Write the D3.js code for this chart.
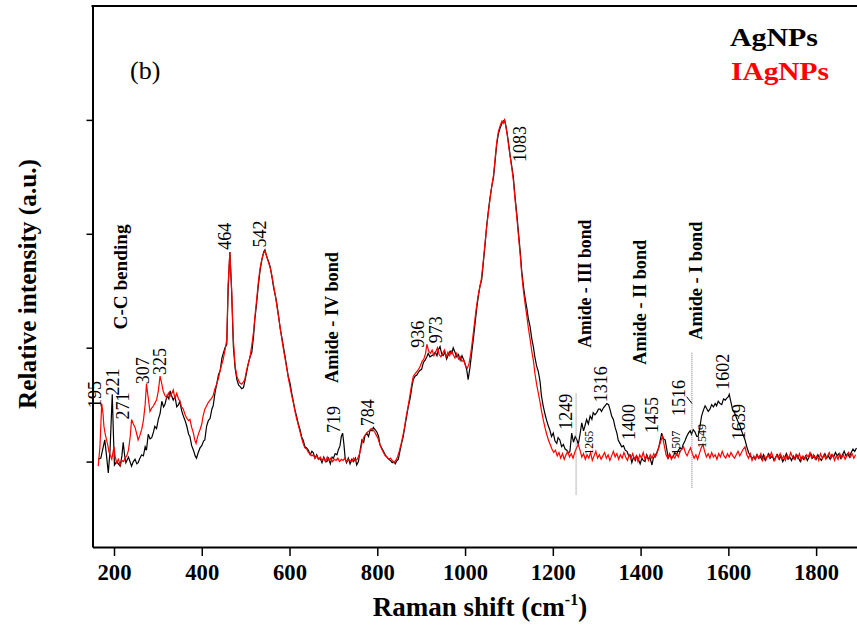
<!DOCTYPE html>
<html>
<head>
<meta charset="utf-8">
<script src="https://cdn.jsdelivr.net/npm/d3@7"></script>
<style>
  body { margin: 0; background: #fff; }
  text { font-family: "Liberation Serif", "Times New Roman", serif; }
</style>
</head>
<body>
<div id="chart_div"></div>
<script>
// AgNPs spectrum, [Raman shift, relative intensity]
const agnps = [
  [164,0.02],[170,0.03],[175,0.12],[179,0.19],[183,0.05],[187,-0.10],[191,0.10],[196,0.59],[199,0.2],[201,-0.03],
  [206,0.00],[210,-0.02],[214,-0.04],[218,0.05],[221,0.17],[224,0.06],[227,-0.01],[233,0.04],[240,-0.04],[244,0.00],
  [248,0.02],[252,-0.02],[255,-0.01],[259,0.03],[263,0.06],[267,0.05],[271,0.13],[274,0.10],[278,0.24],[282,0.20],
  [286,0.21],[290,0.26],[293,0.31],[297,0.29],[301,0.37],[305,0.42],[309,0.53],[313,0.48],[316,0.50],[321,0.58],
  [325,0.55],[328,0.62],[331,0.58],[335,0.54],[339,0.57],[343,0.48],[347,0.50],[350,0.53],[354,0.45],[358,0.40],
  [362,0.36],[366,0.31],[370,0.24],[373,0.22],[377,0.14],[381,0.10],[385,0.05],[388,0.03],[392,0.08],[396,0.12],
  [400,0.14],[404,0.18],[407,0.19],[411,0.31],[415,0.36],[419,0.38],[423,0.46],[426,0.49],[430,0.60],[434,0.68],
  [438,0.76],[442,0.80],[446,0.91],[449,0.95],[453,1.00],[457,1.03],[460,1.50],[464,1.84],[468,1.50],[472,1.01],
  [476,0.82],[480,0.72],[484,0.67],[487,0.66],[491,0.64],[495,0.65],[499,0.72],[502,0.78],[506,0.86],[510,0.92],
  [514,0.96],[518,1.10],[521,1.25],[525,1.39],[529,1.55],[533,1.68],[537,1.77],[541,1.84],[544,1.86],[548,1.80],
  [552,1.76],[556,1.71],[560,1.62],[564,1.52],[568,1.45],[571,1.39],[575,1.28],[579,1.16],[583,1.08],[586,1.01],
  [590,0.92],[594,0.82],[597,0.75],[601,0.69],[605,0.60],[609,0.52],[612,0.46],[616,0.40],[620,0.33],[624,0.28],
  [628,0.21],[631,0.19],[635,0.13],[639,0.12],[643,0.10],[647,0.06],[651,0.09],[654,0.08],[658,0.03],[662,0.06],
  [666,0.02],[670,0.03],[674,-0.01],[678,0.04],[682,0.00],[685,0.00],[689,0.03],[693,-0.02],[697,0.04],[700,0.03],
  [704,0.07],[708,0.06],[711,0.10],[715,0.14],[718,0.22],[721,0.25],[724,0.15],[727,0.02],[730,-0.01],[734,0.03],
  [738,-0.02],[742,0.02],[746,0.00],[750,0.03],[753,-0.03],[757,0.00],[761,0.10],[765,0.19],[769,0.17],[772,0.23],
  [776,0.25],[780,0.22],[784,0.28],[788,0.27],[791,0.30],[795,0.28],[799,0.26],[803,0.22],[806,0.15],[810,0.12],
  [814,0.09],[818,0.06],[822,0.04],[826,0.02],[830,0.01],[834,-0.01],[838,0.00],[841,-0.02],[845,0.01],[848,0.02],
  [852,0.10],[856,0.17],[859,0.22],[863,0.31],[867,0.40],[871,0.49],[875,0.56],[879,0.66],[882,0.72],[886,0.75],
  [890,0.76],[893,0.78],[897,0.80],[901,0.81],[905,0.87],[909,0.89],[913,0.92],[916,0.95],[920,0.92],[924,0.93],
  [928,0.94],[932,0.96],[936,0.93],[939,0.98],[943,1.01],[947,0.94],[950,0.93],[954,0.96],[958,0.90],[962,0.94],
  [966,0.97],[970,0.95],[973,1.00],[977,0.96],[981,0.92],[985,0.94],[989,0.89],[993,0.93],[996,0.90],[1000,0.86],
  [1004,0.80],[1007,0.72],[1011,0.82],[1015,0.95],[1019,1.08],[1023,1.22],[1027,1.36],[1031,1.47],[1034,1.54],[1038,1.60],
  [1042,1.76],[1046,1.92],[1049,2.06],[1053,2.20],[1057,2.32],[1061,2.42],[1065,2.50],[1069,2.66],[1072,2.78],[1076,2.88],
  [1080,2.93],[1084,2.97],[1087,2.99],[1090,3.00],[1093,2.95],[1096,2.88],[1099,2.80],[1103,2.68],[1107,2.58],[1110,2.50],
  [1114,2.32],[1118,2.17],[1122,2.00],[1126,1.83],[1129,1.68],[1133,1.54],[1137,1.43],[1141,1.34],[1144,1.26],[1148,1.19],
  [1152,1.08],[1156,1.00],[1159,0.92],[1163,0.84],[1167,0.79],[1171,0.70],[1174,0.58],[1178,0.49],[1182,0.42],[1186,0.36],
  [1190,0.31],[1193,0.28],[1197,0.22],[1201,0.25],[1205,0.18],[1209,0.16],[1212,0.21],[1216,0.19],[1220,0.13],[1224,0.15],
  [1228,0.11],[1232,0.10],[1235,0.07],[1239,0.09],[1243,0.25],[1247,0.17],[1251,0.22],[1255,0.19],[1258,0.15],[1262,0.24],
  [1266,0.34],[1270,0.27],[1273,0.31],[1277,0.37],[1281,0.33],[1285,0.40],[1289,0.37],[1292,0.43],[1296,0.41],[1300,0.43],
  [1304,0.46],[1308,0.46],[1311,0.44],[1315,0.47],[1319,0.49],[1323,0.51],[1327,0.50],[1331,0.45],[1334,0.40],[1338,0.37],
  [1342,0.30],[1346,0.25],[1349,0.19],[1353,0.16],[1357,0.13],[1361,0.14],[1365,0.10],[1369,0.09],[1373,0.05],[1376,0.06],
  [1380,-0.01],[1384,0.04],[1388,0.01],[1391,0.05],[1395,0.02],[1399,-0.02],[1403,0.03],[1406,0.01],[1410,0.00],[1414,0.06],
  [1418,0.02],[1421,0.04],[1426,-0.03],[1429,0.03],[1433,0.05],[1437,0.08],[1441,0.12],[1444,0.17],[1448,0.25],[1452,0.20],
  [1456,0.19],[1460,0.10],[1463,0.03],[1467,0.06],[1471,0.03],[1475,0.05],[1478,0.08],[1482,0.06],[1486,0.10],[1490,0.12],
  [1494,0.11],[1497,0.15],[1501,0.18],[1505,0.22],[1509,0.25],[1513,0.27],[1516,0.24],[1520,0.28],[1524,0.26],[1528,0.22],
  [1531,0.22],[1535,0.30],[1539,0.40],[1543,0.45],[1547,0.49],[1550,0.47],[1554,0.44],[1558,0.46],[1562,0.50],[1566,0.48],
  [1570,0.51],[1573,0.49],[1577,0.53],[1581,0.51],[1585,0.50],[1589,0.55],[1593,0.54],[1597,0.56],[1600,0.57],[1602,0.59],
  [1606,0.52],[1610,0.45],[1614,0.43],[1618,0.39],[1622,0.35],[1627,0.31],[1630,0.27],[1634,0.23],[1638,0.19],[1642,0.13],
  [1646,0.08],[1650,0.05],[1654,0.03],[1658,0.04],[1661,0.02],[1665,0.06],[1669,0.03],[1672,0.05],[1676,0.02],[1680,0.06],
  [1684,0.01],[1688,0.04],[1692,0.07],[1696,0.03],[1700,0.05],[1704,0.01],[1708,0.04],[1712,0.06],[1716,0.02],[1720,0.05],
  [1724,0.00],[1728,0.03],[1732,0.07],[1736,0.02],[1740,0.04],[1744,0.01],[1748,0.05],[1752,0.02],[1756,0.06],[1760,0.03],
  [1764,0.00],[1768,0.04],[1772,0.02],[1776,0.05],[1780,0.01],[1784,0.04],[1788,0.07],[1792,0.03],[1796,0.05],[1800,0.02],
  [1804,0.06],[1808,0.03],[1812,0.01],[1816,0.04],[1820,0.07],[1824,0.03],[1828,0.05],[1832,0.02],[1836,0.06],[1840,0.04],
  [1844,0.08],[1848,0.05],[1852,0.07],[1856,0.03],[1860,0.06],[1864,0.09],[1868,0.05],[1872,0.07],[1876,0.04],[1880,0.08],
  [1884,0.11],[1888,0.09],[1892,0.12]
];

// IAgNPs spectrum
const iagnps = [
  [164,-0.04],[168,0.13],[172,0.51],[175,0.42],[177,0.31],[180,0.24],[183,0.19],[186,0.14],[189,0.08],[192,0.05],
  [195,0.02],[198,0.09],[200,0.13],[203,0.04],[206,-0.01],[210,0.02],[214,-0.03],[218,0.01],[222,0.00],[225,0.03],
  [229,0.05],[233,0.10],[237,0.22],[240,0.37],[244,0.33],[248,0.30],[252,0.24],[255,0.19],[259,0.23],[263,0.28],
  [267,0.36],[271,0.50],[274,0.68],[278,0.56],[282,0.44],[286,0.47],[290,0.49],[294,0.52],[297,0.54],[301,0.62],
  [305,0.75],[309,0.68],[312,0.62],[316,0.58],[320,0.56],[324,0.60],[327,0.57],[331,0.59],[335,0.63],[339,0.55],
  [343,0.60],[347,0.55],[350,0.53],[354,0.48],[358,0.46],[362,0.41],[366,0.38],[370,0.36],[373,0.37],[377,0.30],
  [381,0.25],[384,0.19],[387,0.16],[390,0.21],[393,0.25],[396,0.28],[400,0.33],[403,0.40],[407,0.46],[411,0.49],
  [415,0.52],[419,0.54],[423,0.56],[426,0.58],[430,0.64],[434,0.68],[438,0.73],[442,0.80],[446,0.86],[449,0.90],
  [453,0.98],[457,1.07],[460,1.55],[464,1.84],[468,1.52],[472,1.07],[476,0.84],[480,0.75],[484,0.71],[487,0.69],
  [491,0.68],[495,0.70],[498,0.72],[502,0.80],[506,0.86],[510,0.92],[514,1.02],[518,1.14],[521,1.27],[525,1.42],
  [529,1.58],[533,1.70],[537,1.78],[541,1.83],[544,1.85],[548,1.80],[552,1.75],[556,1.70],[560,1.63],[564,1.54],
  [568,1.45],[571,1.37],[575,1.27],[579,1.17],[583,1.06],[586,0.99],[590,0.90],[594,0.81],[597,0.74],[601,0.66],
  [605,0.58],[609,0.51],[612,0.45],[616,0.38],[620,0.32],[624,0.26],[628,0.20],[631,0.16],[635,0.12],[639,0.11],
  [643,0.08],[647,0.07],[651,0.05],[654,0.06],[658,0.03],[662,0.05],[666,0.02],[670,0.04],[674,0.01],[678,0.03],
  [682,0.00],[686,0.04],[690,0.01],[694,0.03],[698,0.00],[702,0.02],[706,0.01],[710,0.03],[714,0.00],[718,0.02],
  [722,0.01],[726,0.03],[730,0.00],[734,0.02],[738,0.01],[742,0.00],[746,0.03],[750,0.01],[754,0.02],[758,0.05],
  [762,0.10],[766,0.18],[770,0.22],[774,0.24],[778,0.26],[782,0.27],[786,0.29],[790,0.28],[794,0.26],[798,0.23],
  [802,0.20],[806,0.15],[810,0.11],[814,0.08],[818,0.05],[822,0.04],[826,0.02],[830,0.03],[834,0.01],[838,-0.01],
  [842,0.01],[846,0.04],[850,0.09],[854,0.15],[858,0.22],[862,0.30],[866,0.40],[870,0.48],[874,0.57],[878,0.67],
  [882,0.75],[886,0.77],[890,0.79],[894,0.81],[898,0.84],[902,0.88],[906,0.90],[910,0.95],[913,1.03],[917,0.97],
  [921,0.95],[925,0.98],[929,0.93],[933,0.96],[937,1.00],[941,0.94],[945,0.92],[949,0.95],[953,0.98],[957,0.92],
  [961,0.96],[965,0.93],[969,0.97],[973,0.94],[977,0.91],[981,0.95],[985,0.90],[989,0.92],[993,0.88],[997,0.89],
  [1001,0.84],[1005,0.82],[1009,0.86],[1013,0.95],[1017,1.07],[1021,1.20],[1025,1.33],[1029,1.44],[1033,1.52],[1037,1.60],
  [1041,1.74],[1045,1.90],[1049,2.05],[1053,2.18],[1057,2.31],[1061,2.42],[1065,2.52],[1069,2.68],[1072,2.80],[1076,2.90],
  [1080,2.95],[1084,2.99],[1087,2.97],[1090,3.00],[1093,2.94],[1096,2.87],[1099,2.78],[1103,2.67],[1107,2.56],[1110,2.47],
  [1114,2.30],[1118,2.14],[1122,1.97],[1126,1.80],[1129,1.65],[1133,1.50],[1137,1.38],[1141,1.27],[1144,1.18],[1148,1.08],
  [1152,0.97],[1156,0.88],[1159,0.78],[1163,0.68],[1167,0.60],[1171,0.52],[1174,0.45],[1178,0.37],[1182,0.30],[1186,0.24],
  [1190,0.19],[1194,0.15],[1198,0.11],[1202,0.08],[1206,0.10],[1210,0.05],[1214,0.08],[1218,0.03],[1222,0.07],[1226,0.02],
  [1230,0.06],[1234,0.09],[1238,0.04],[1242,0.07],[1246,0.03],[1250,0.08],[1254,0.12],[1258,0.15],[1262,0.10],[1266,0.04],
  [1270,0.07],[1274,0.02],[1278,0.06],[1282,0.03],[1286,0.08],[1290,0.01],[1294,0.05],[1298,0.09],[1302,0.03],[1306,0.06],
  [1310,0.02],[1314,0.05],[1318,0.08],[1322,0.03],[1326,0.06],[1330,0.01],[1334,0.05],[1338,0.09],[1342,0.04],[1346,0.07],
  [1350,0.02],[1354,0.06],[1358,0.03],[1362,0.08],[1366,0.04],[1370,0.01],[1374,0.06],[1378,0.03],[1382,0.07],[1386,0.02],
  [1390,0.05],[1394,0.00],[1398,0.06],[1402,0.03],[1406,0.08],[1410,0.02],[1414,0.05],[1418,0.01],[1422,0.06],[1426,0.03],
  [1430,0.07],[1434,0.04],[1438,0.08],[1442,0.13],[1446,0.18],[1450,0.22],[1454,0.14],[1458,0.06],[1462,0.03],[1466,0.07],
  [1470,0.02],[1474,0.05],[1478,0.03],[1482,0.07],[1486,0.04],[1490,0.09],[1494,0.11],[1498,0.13],[1502,0.08],[1506,0.05],
  [1510,0.09],[1514,0.12],[1518,0.07],[1522,0.03],[1526,0.06],[1530,0.02],[1534,0.07],[1538,0.12],[1542,0.15],[1546,0.09],
  [1550,0.04],[1554,0.07],[1558,0.03],[1562,0.08],[1566,0.04],[1570,0.06],[1574,0.02],[1578,0.07],[1582,0.04],[1586,0.09],
  [1590,0.05],[1594,0.03],[1598,0.07],[1602,0.04],[1606,0.08],[1610,0.05],[1614,0.03],[1618,0.06],[1622,0.09],[1626,0.05],
  [1630,0.08],[1634,0.11],[1638,0.13],[1642,0.06],[1646,0.03],[1650,0.07],[1654,0.01],[1658,0.05],[1662,0.02],[1666,0.06],
  [1670,0.03],[1674,0.07],[1678,0.01],[1682,0.05],[1686,0.02],[1690,0.06],[1694,0.03],[1698,0.08],[1702,0.04],[1706,0.01],
  [1710,0.06],[1714,0.03],[1718,0.07],[1722,0.02],[1726,0.05],[1730,0.01],[1734,0.06],[1738,0.03],[1742,0.08],[1746,0.04],
  [1750,0.02],[1754,0.06],[1758,0.03],[1762,0.07],[1766,0.01],[1770,0.05],[1774,0.02],[1778,0.06],[1782,0.04],[1786,0.08],
  [1790,0.03],[1794,0.06],[1798,0.02],[1802,0.05],[1806,0.01],[1810,0.07],[1814,0.03],[1818,0.06],[1822,0.02],[1826,0.05],
  [1830,0.08],[1834,0.03],[1838,0.06],[1842,0.01],[1846,0.05],[1850,0.02],[1854,0.07],[1858,0.03],[1862,0.06],[1866,0.02],
  [1870,0.05],[1874,0.08],[1878,0.04],[1882,0.07],[1886,0.03],[1890,0.06]
];

const xTicks = [200, 400, 600, 800, 1000, 1200, 1400, 1600, 1800];
const yTicks = [0, 1, 2, 3];

// peak labels: text, anchor shift, anchor intensity, small?
const peakLabels = [
  ["195", 157, 0.47, false], ["221", 198, 0.58, false], ["271", 220, 0.37, false],
  ["307", 266, 0.68, false], ["325", 305, 0.76, false], ["464", 453, 1.86, false],
  ["542", 531, 1.88, false], ["719", 701, 0.25, false], ["784", 779, 0.31, false],
  ["936", 891, 1.00, false], ["973", 934, 1.04, false], ["1083", 1124, 2.63, false],
  ["1249", 1229, 0.28, false], ["1265", 1283, 0.06, true], ["1316", 1309, 0.52, false],
  ["1400", 1374, 0.19, false], ["1455", 1426, 0.25, false], ["1507", 1481, 0.06, true],
  ["1516", 1486, 0.40, false], ["1549", 1539, 0.12, true], ["1602", 1587, 0.63, false],
  ["1639", 1623, 0.19, false]
];

// band labels: text, shift, intensity at text start, length
const bandLabels = [
  ["C-C bending", 216, 1.16, 105],
  ["Amide - IV bond", 697, 0.69, 131],
  ["Amide - III bond", 1273, 1.00, 128],
  ["Amide - II bond", 1399, 0.85, 125],
  ["Amide - I bond", 1526, 1.07, 118]
];

// dotted markers: shift, from, to
const markers = [[1253, -0.29, 0.60], [1517, -0.23, 0.96]];

const width = 857;
const height = 637;
const plotLeft = 92.5, plotTop = 6, plotBottom = 547;

const x = d3.scaleLinear().domain([151, 1900]).range([plotLeft, 860]);
const y = d3.scaleLinear().domain([-0.75, 4]).range([plotBottom, plotTop]);

const svg = d3.select("#chart_div")
  .append("svg")
  .attr("width", width)
  .attr("height", height);

svg.append("clipPath").attr("id", "plot")
  .append("rect")
  .attr("x", plotLeft).attr("y", plotTop)
  .attr("width", width - plotLeft).attr("height", plotBottom - plotTop);

const xAxis = (g) => {
  const ax = g.append("g")
    .attr("transform", `translate(0,${plotBottom})`)
    .call(d3.axisBottom(x).tickValues(xTicks).tickFormat(d3.format("d"))
      .tickSize(9).tickSizeOuter(0).tickPadding(7));
  ax.select(".domain").attr("stroke-width", 2);
  ax.selectAll(".tick line").attr("stroke-width", 1.5);
  ax.selectAll(".tick text")
    .attr("fill", "#000")
    .style("font-size", "24px")
    .style("font-weight", "bold")
    .style("font-family", "'Liberation Serif', 'Times New Roman', serif")
    .attr("textLength", d => d >= 1000 ? 45 : 34)
    .attr("lengthAdjust", "spacingAndGlyphs");
};

const yAxis = (g) => {
  const ax = g.append("g")
    .attr("transform", `translate(${plotLeft},0)`)
    .call(d3.axisLeft(y).tickValues(yTicks).tickFormat("").tickSize(6).tickSizeOuter(0));
  ax.select(".domain").attr("stroke-width", 2);
  ax.selectAll(".tick line").attr("stroke-width", 1.5);
};

const line = d3.line().x(d => x(d[0])).y(d => y(d[1]));

const spectra = (g) => {
  const p = g.append("g").attr("clip-path", "url(#plot)");
  p.append("path").datum(agnps)
    .attr("fill", "none").attr("stroke", "#000").attr("stroke-width", 1.2)
    .attr("d", line);
  p.append("path").datum(iagnps)
    .attr("fill", "none").attr("stroke", "#ff0000").attr("stroke-width", 1.2)
    .attr("d", line);
};

const annotations = (g) => {
  g.selectAll(".marker")
    .data(markers)
    .enter()
    .append("line")
    .attr("x1", d => x(d[0])).attr("x2", d => x(d[0]))
    .attr("y1", d => y(d[1])).attr("y2", d => y(d[2]))
    .attr("stroke", "#777").attr("stroke-width", 1).attr("stroke-dasharray", "1,1");

  g.append("line")
    .attr("x1", x(1505)).attr("y1", y(0.57))
    .attr("x2", x(1517)).attr("y2", y(0.51))
    .attr("stroke", "#000").attr("stroke-width", 1);

  g.selectAll(".peak")
    .data(peakLabels)
    .enter()
    .append("text")
    .attr("transform", d => `translate(${x(d[1])},${y(d[2])}) rotate(-90)`)
    .attr("dy", "0.35em")
    .attr("font-size", d => d[3] ? 12 : 18)
    .text(d => d[0]);

  g.selectAll(".band")
    .data(bandLabels)
    .enter()
    .append("text")
    .attr("transform", d => `translate(${x(d[1])},${y(d[2])}) rotate(-90)`)
    .attr("dy", "0.35em")
    .attr("font-size", 18)
    .attr("font-weight", "bold")
    .attr("textLength", d => d[3])
    .attr("lengthAdjust", "spacingAndGlyphs")
    .text(d => d[0]);
};

const labels = (g) => {
  g.append("text")
    .attr("x", 130).attr("y", 79)
    .attr("font-size", 26)
    .text("(b)");

  g.append("text")
    .attr("x", 730).attr("y", 46)
    .attr("font-size", 25).attr("font-weight", "bold")
    .attr("textLength", 88).attr("lengthAdjust", "spacingAndGlyphs")
    .text("AgNPs");

  g.append("text")
    .attr("x", 731).attr("y", 80)
    .attr("font-size", 25).attr("font-weight", "bold")
    .attr("fill", "#ff0000")
    .attr("textLength", 98).attr("lengthAdjust", "spacingAndGlyphs")
    .text("IAgNPs");

  const xt = g.append("text")
    .attr("x", 480).attr("y", 616)
    .attr("text-anchor", "middle")
    .attr("font-size", 27).attr("font-weight", "bold");
  xt.append("tspan").text("Raman shift (cm");
  xt.append("tspan").attr("font-size", 16).attr("dy", -11).text("-1");
  xt.append("tspan").attr("dy", 11).text(")");

  g.append("text")
    .attr("transform", "translate(27,284) rotate(-90)")
    .attr("text-anchor", "middle")
    .attr("dy", "0.35em")
    .attr("font-size", 25).attr("font-weight", "bold")
    .attr("textLength", 250).attr("lengthAdjust", "spacingAndGlyphs")
    .text("Relative intensity (a.u.)");
};

svg.call(spectra);
svg.call(xAxis);
svg.call(yAxis);

svg.append("line")
  .attr("x1", plotLeft - 1).attr("x2", width)
  .attr("y1", plotTop).attr("y2", plotTop)
  .attr("stroke", "#000").attr("stroke-width", 2);

svg.call(annotations);
svg.call(labels);
</script>
</body>
</html>
